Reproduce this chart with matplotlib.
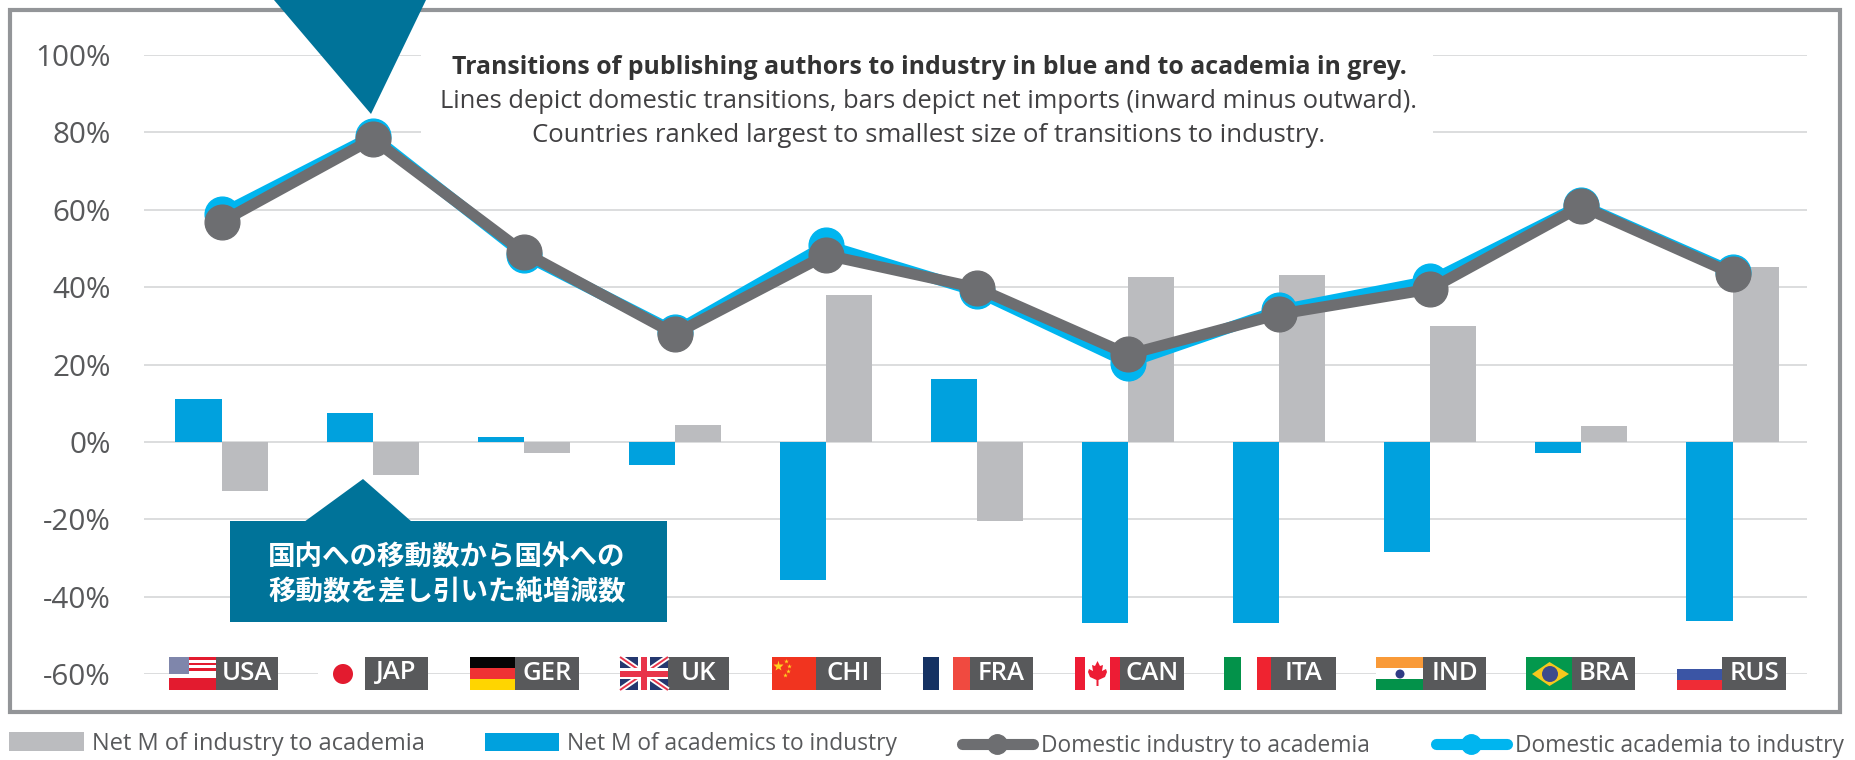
import matplotlib
matplotlib.use("Agg")
import matplotlib.pyplot as plt
from matplotlib.patches import Rectangle, Polygon, Circle
from matplotlib.lines import Line2D
import numpy as np

# ---------- data ----------
countries = ["USA", "JAP", "GER", "UK", "CHI", "FRA", "CAN", "ITA", "IND", "BRA", "RUS"]
net_academics_to_industry = [11.2, 7.4, 1.2, -6.0, -35.8, 16.2, -46.8, -46.8, -28.5, -2.8, -46.3]
net_industry_to_academia = [-12.8, -8.6, -2.8, 4.3, 38.0, -20.5, 42.5, 43.1, 30.0, 4.0, 45.3]
domestic_industry_to_academia = [56.9, 78.3, 49.0, 27.9, 48.3, 39.8, 22.6, 33.0, 39.5, 60.9, 43.5]
domestic_academia_to_industry = [59.0, 79.0, 48.4, 28.5, 50.8, 38.9, 20.5, 34.0, 41.6, 61.2, 44.0]
y_ticks = [-60, -40, -20, 0, 20, 40, 60, 80, 100]
y_tick_labels = ["-60%", "-40%", "-20%", "0%", "20%", "40%", "60%", "80%", "100%"]
title_lines = ["Transitions of publishing authors to industry in blue and to academia in grey.",
               "Lines depict domestic transitions, bars depict net imports (inward minus outward).",
               "Countries ranked largest to smallest size of transitions to industry."]
callout_lines = ["国内への移動数から国外への", "移動数を差し引いた純増減数"]
legend_labels = ["Net M of industry to academia", "Net M of academics to industry",
                 "Domestic industry to academia", "Domestic academia to industry"]

# ---------- style ----------
W, H = 1856, 760
TEAL = "#007399"
BLUE_BAR = "#00a1de"
GREY_BAR = "#bbbcbf"
GREY_LINE = "#6d6e71"
BLUE_LINE = "#00b5ef"
TXT = "#58595b"
plt.rcParams["font.family"] = ["Open Sans", "DejaVu Sans"]

fig = plt.figure(figsize=(W / 100, H / 100), dpi=100, facecolor="white")
ax = fig.add_axes([144 / W, 1 - 674 / H, (1807 - 144) / W, (674 - 55) / H])
ax.set_xlim(-0.513, 10.493)
ax.set_ylim(-60, 100)
ax.set_facecolor("none")
for s in ax.spines.values():
    s.set_visible(False)
ax.set_yticks(y_ticks)
ax.set_yticklabels(y_tick_labels, fontsize=21.3, color=TXT)
ax.tick_params(axis="y", length=0, pad=24)
ax.set_xticks([])
ax.yaxis.grid(True, color="#d9dadb", lw=1.3)
ax.set_axisbelow(True)

x = np.arange(len(countries))
bw = 0.305
b1 = ax.bar(x - bw / 2, net_academics_to_industry, bw, color=BLUE_BAR, zorder=2)
b2 = ax.bar(x + bw / 2, net_industry_to_academia, bw, color=GREY_BAR, zorder=2)
l1, = ax.plot(x, domestic_academia_to_industry, color=BLUE_LINE, lw=8, marker="o", ms=25, zorder=3, solid_joinstyle="round")
l2, = ax.plot(x, domestic_industry_to_academia, color=GREY_LINE, lw=8, marker="o", ms=25, zorder=4, solid_joinstyle="round")

# overlay in pixel coordinates for the annotations and flags
ov = fig.add_axes([0, 0, 1, 1], zorder=5)
ov.set_xlim(0, W)
ov.set_ylim(H, 0)
ov.axis("off")
ov.patch.set_alpha(0)

def rect(x0, y0, x1, y1, c, z=6):
    ov.add_patch(Rectangle((x0, y0), x1 - x0, y1 - y0, fc=c, ec="none", zorder=z))

# outer frame
ov.add_patch(Rectangle((10, 10), 1830, 702, fc="none", ec="#939598", lw=3, zorder=1))

# title block
rect(421, 40, 1433, 150, "white", 2)
ov.text(929, 68, title_lines[0], ha="center", va="center", fontsize=17.9, fontweight="bold", color="#333333", zorder=7)
ov.text(929, 102, title_lines[1], ha="center", va="center", fontsize=18.4, color="#414042", zorder=7)
ov.text(929, 136, title_lines[2], ha="center", va="center", fontsize=18.5, color="#414042", zorder=7)

# top pointer
ov.add_patch(Polygon([(274, 0), (426, 0), (371, 114)], closed=True, fc=TEAL, ec="none", zorder=6))

# callout
ov.add_patch(Polygon([(304, 522), (363, 479), (412, 522)], closed=True, fc=TEAL, ec="none", zorder=6))
rect(230, 521, 667, 622, TEAL)
for yy, s in zip((557, 592), callout_lines):
    ov.text(447, yy, s, ha="center", va="center", fontsize=19.8, fontweight="bold", color="white",
            family=["Noto Sans CJK JP", "DejaVu Sans"], zorder=7)

# flags
T, B = 657, 690
label_ranges = {"USA": (216, 278), "JAP": (365, 428), "GER": (515, 579), "UK": (668, 729),
                "CHI": (816, 881), "FRA": (970, 1033), "CAN": (1120, 1184), "ITA": (1271, 1336),
                "IND": (1423, 1486), "BRA": (1572.5, 1635), "RUS": (1722.5, 1786)}
for name, (a, b) in label_ranges.items():
    rect(a, T, b, B, "#58595b")
    ov.text((a + b) / 2, (T + B) / 2 - 0.5, name, ha="center", va="center", fontsize=18.5, color="white",
            fontweight="semibold", zorder=8)

# USA
rect(169, T, 216, B, "white")
for k, c in zip(range(3), ["#e31b2f"] * 3):
    rect(169 + 20, T + k * 5.5, 216, T + k * 5.5 + 2.6, c, 7)
rect(169, T + 21, 216, B, "#e31b2f", 7)
rect(169, T, 189, T + 17, "#7f86ab", 7)
# Japan
rect(318, T, 365, B, "white")
ov.add_patch(Circle((343, 674), 10, fc="#e31b2f", ec="none", zorder=7))
# Germany
rect(470, T, 515, T + 11, "#050505")
rect(470, T + 11, 515, T + 22, "#ef3134")
rect(470, T + 22, 515, B, "#ffd500")
# UK
rect(620, T, 668, B, "#25386f")
for (p, q) in [((620, T), (668, B)), ((620, B), (668, T))]:
    ov.plot(*zip(p, q), color="white", lw=4, zorder=7, solid_capstyle="butt")
    ov.plot(*zip(p, q), color="#e8344a", lw=1.4, zorder=7.1, solid_capstyle="butt")
rect(638, T, 650, B, "white", 7.2)
rect(620, T + 11, 668, T + 22, "white", 7.2)
rect(641, T, 647, B, "#e8344a", 7.3)
rect(620, T + 13.5, 668, T + 19.5, "#e8344a", 7.3)
# China
rect(772, T, 816, B, "#f1341f")
ov.plot([778], [666], marker="*", ms=8, color="#ffd21f", mec="none", zorder=7)
for dx, dy in [(786, 661), (789, 666), (788, 671), (785, 675)]:
    ov.plot([dx], [dy], marker="*", ms=3.5, color="#ffd21f", mec="none", zorder=7)
# France
rect(939, T, 953, B, "white")
rect(923, T, 939, B, "#153263")
rect(953, T, 970, B, "#f04a40")
# Canada
rect(1085, T, 1110, B, "white")
rect(1075, T, 1085, B, "#ed1c34")
rect(1110, T, 1120, B, "#ed1c34")
leaf = [(1097.5, 661), (1100, 666), (1103, 665), (1102, 671), (1106, 669), (1107, 672), (1105, 677),
        (1098.5, 680), (1098.5, 686), (1096.5, 686), (1096.5, 680), (1090, 677), (1088, 672), (1089, 669),
        (1093, 671), (1092, 665), (1095, 666)]
ov.add_patch(Polygon(leaf, closed=True, fc="#ed1c34", ec="none", zorder=7))
# Italy
rect(1241, T, 1257, B, "white")
rect(1224, T, 1241, B, "#03924a")
rect(1257, T, 1271, B, "#ef2330")
# India
rect(1376, T, 1423, T + 11, "#f99a38")
rect(1376, T + 11, 1423, T + 22, "white")
rect(1376, T + 22, 1423, B, "#03924a")
ov.add_patch(Circle((1400, 674), 4.5, fc="#303c85", ec="none", zorder=7))
# Brazil
rect(1526, T, 1572.5, B, "#03984d")
ov.add_patch(Polygon([(1532, 674), (1549.5, 662), (1569, 674), (1549.5, 686)], closed=True, fc="#f5c81d", ec="none", zorder=7))
ov.add_patch(Circle((1550, 674), 8, fc="#3d4a8c", ec="none", zorder=7.1))
# Russia
rect(1677.5, T, 1722.5, T + 12, "white")
rect(1677.5, T + 12, 1722.5, T + 23, "#3b55a5")
rect(1677.5, T + 23, 1722.5, B, "#ef2c36")

# legends
def add_legend(handle, label, x_px, y_px, hlen_px, size, hh_px=None):
    px_em = size * 100 / 72
    kw = {}
    if hh_px:
        kw["handleheight"] = hh_px / px_em
    fig.legend(handles=[handle], labels=[label], loc="center left",
               bbox_to_anchor=(x_px / W, 1 - y_px / H), bbox_transform=fig.transFigure,
               frameon=False, fontsize=size, borderpad=0, borderaxespad=0,
               handlelength=hlen_px / px_em, handletextpad=8 / px_em, labelcolor=TXT, **kw)

add_legend(b2[0], legend_labels[0], 9, 744, 75, 17, 20)
add_legend(b1[0], legend_labels[1], 485, 744, 74, 16.4, 20)
add_legend(Line2D([], [], color=GREY_LINE, lw=8, marker="o", ms=14, solid_capstyle="round"), legend_labels[2], 962, 746, 71, 16.4)
add_legend(Line2D([], [], color=BLUE_LINE, lw=8, marker="o", ms=14, solid_capstyle="round"), legend_labels[3], 1436, 746, 71, 16.4)

fig.savefig("out.png", dpi=100, facecolor="white")
